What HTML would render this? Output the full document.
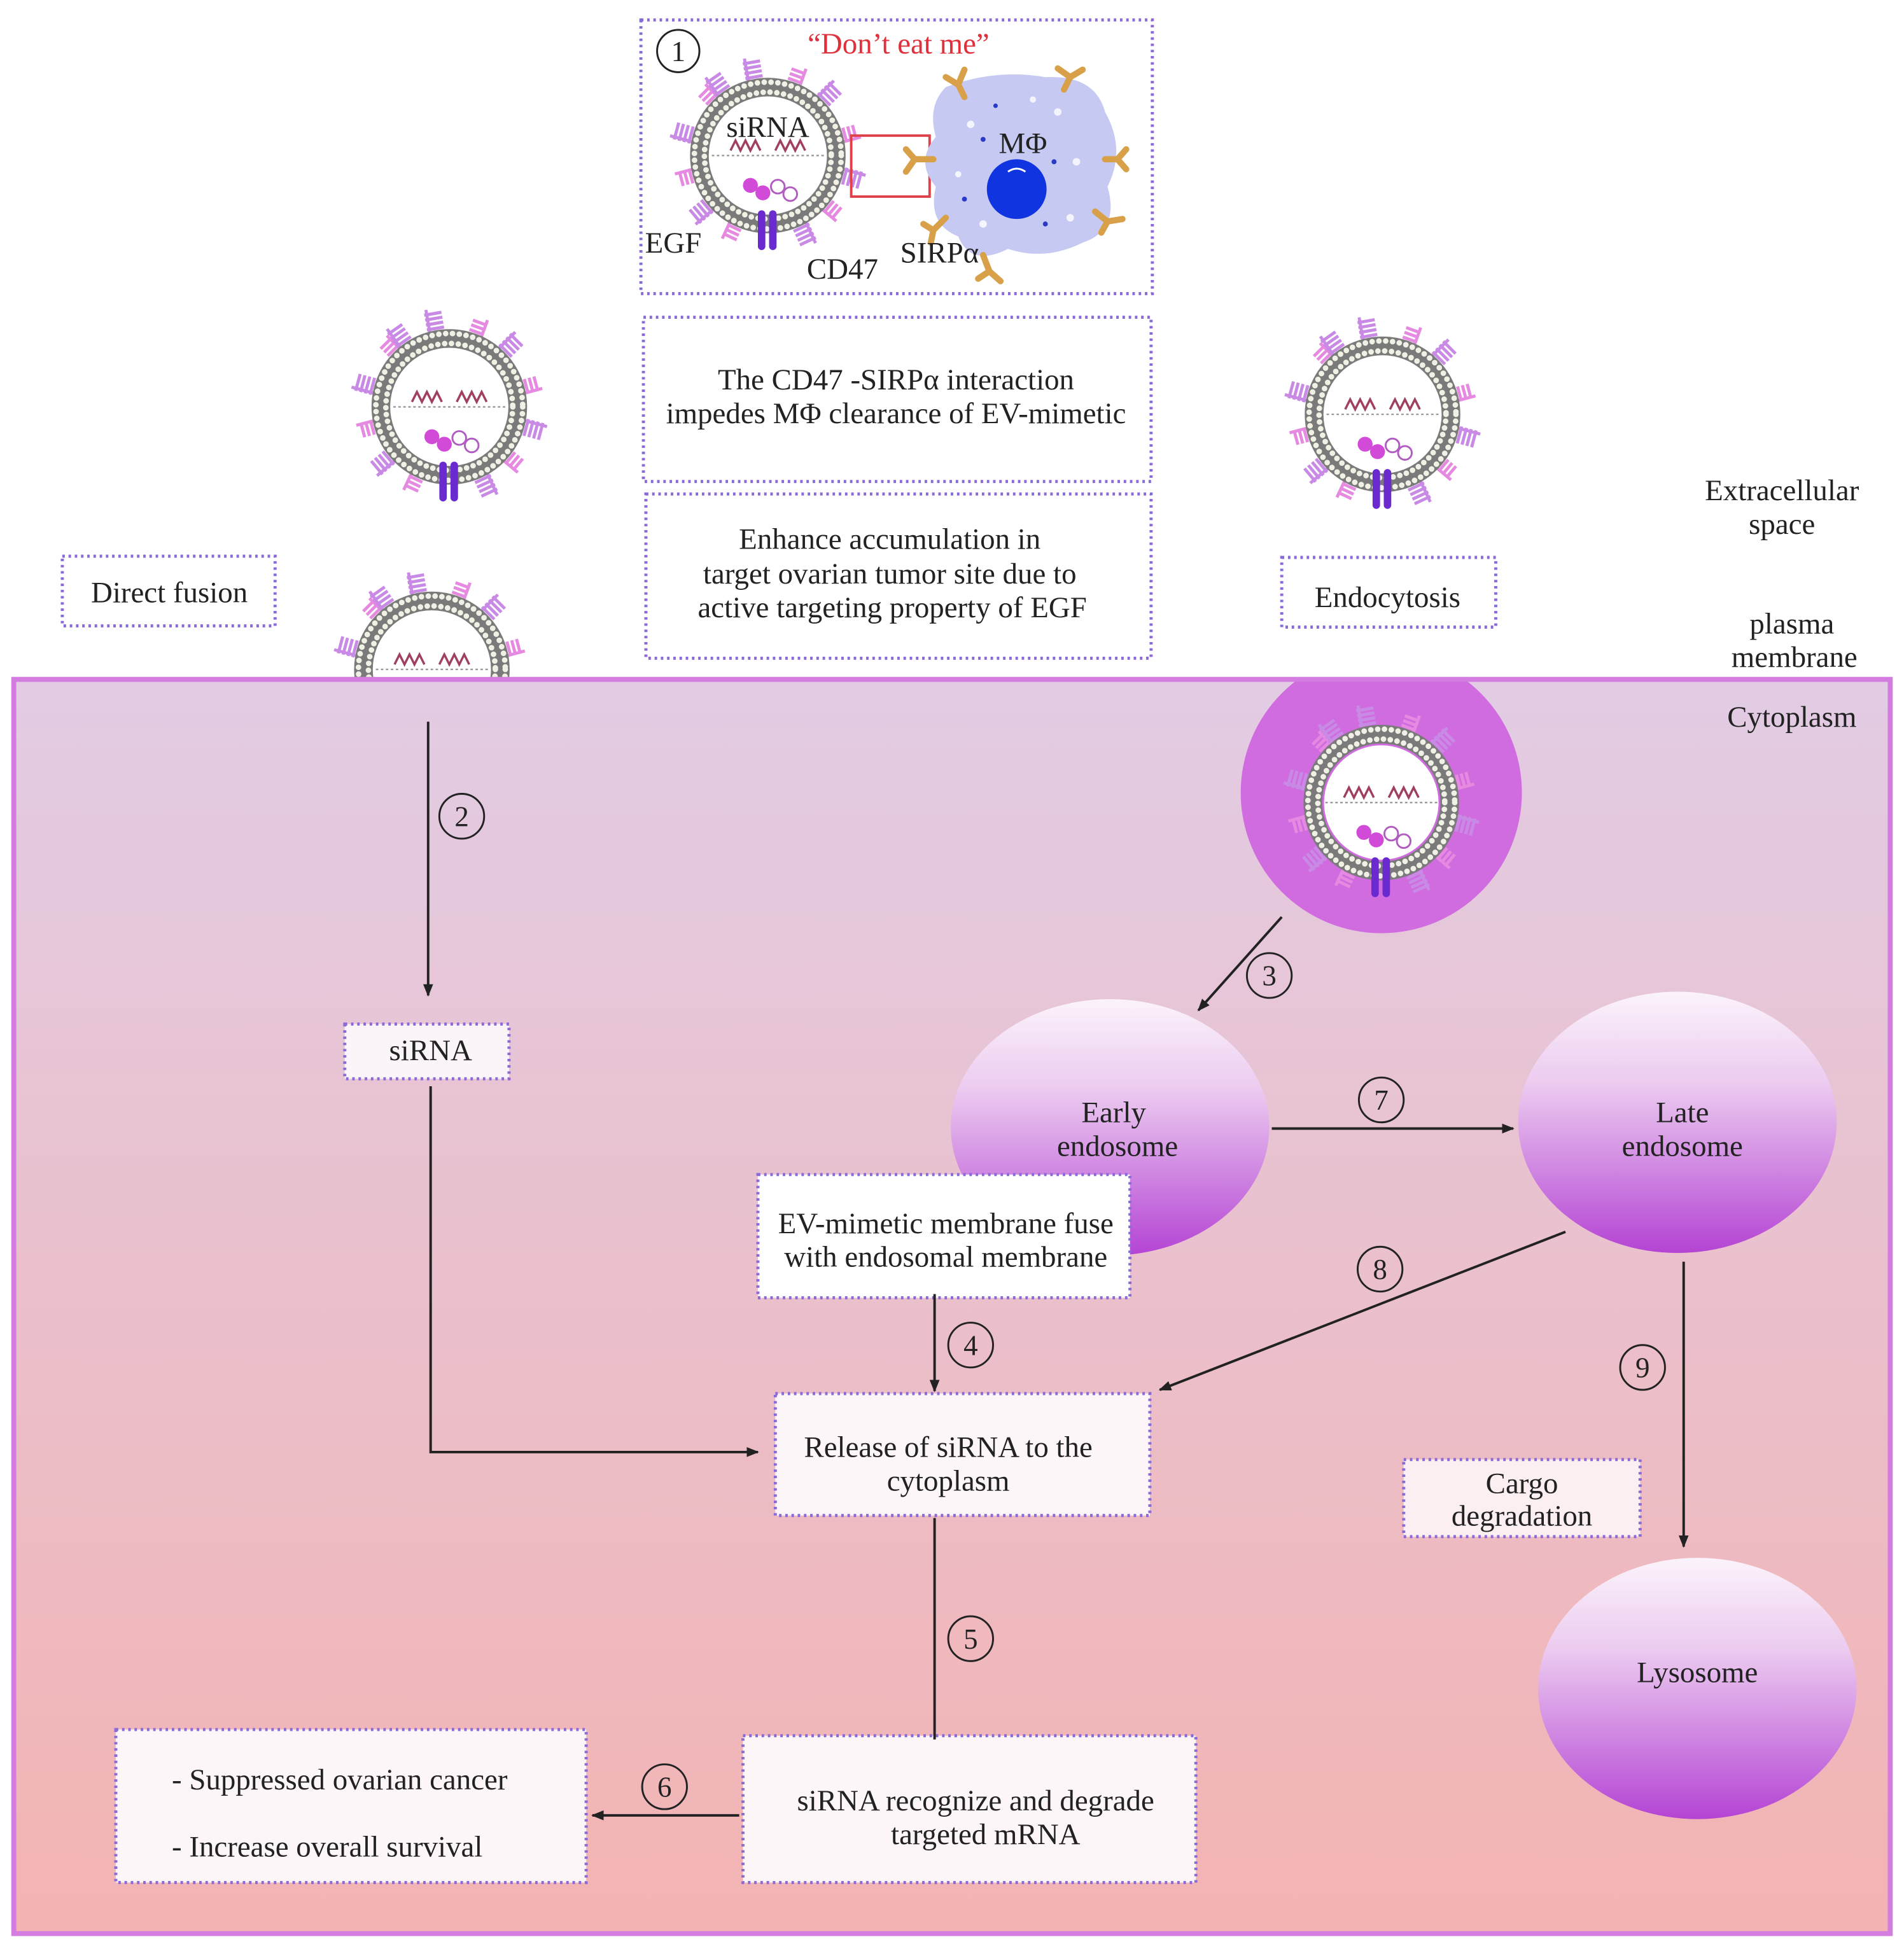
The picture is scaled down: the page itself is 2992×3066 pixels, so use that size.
<!DOCTYPE html>
<html><head><meta charset="utf-8"><style>
html,body{margin:0;padding:0;background:#fff}
svg{display:block}
text{font-family:"Liberation Serif",serif;fill:#222}
</style></head><body>
<svg width="2992" height="3066" viewBox="0 0 1530 1568" xmlns="http://www.w3.org/2000/svg">
<defs>
<linearGradient id="cyto" x1="0" y1="0" x2="0" y2="1">
<stop offset="0" stop-color="#e2cce4"/><stop offset="1" stop-color="#f3b3b2"/></linearGradient>
<linearGradient id="endo" x1="0" y1="0" x2="0" y2="1">
<stop offset="0" stop-color="#fbf3fb"/><stop offset="0.35" stop-color="#eccbf0"/><stop offset="1" stop-color="#b444d4"/></linearGradient>
<clipPath id="cc"><rect x="13" y="548" width="1504" height="1004"/></clipPath>
<marker id="ar" markerWidth="10" markerHeight="10" refX="9" refY="5" orient="auto" markerUnits="userSpaceOnUse">
<path d="M0,1 L10,5 L0,9 z" fill="#222"/></marker>
<g id="spk"><g stroke="#c98ae6" stroke-width="2.5">
<line x1="64" y1="-7" x2="64" y2="7"/><line x1="68" y1="-7" x2="68" y2="7"/><line x1="72" y1="-7" x2="72" y2="7"/><line x1="76" y1="-7" x2="76" y2="7"/><line x1="62" y1="-5" x2="80" y2="-5"/></g></g>
<g id="spk2"><g stroke="#e58ae0" stroke-width="2.5">
<line x1="64" y1="-6" x2="64" y2="6"/><line x1="68" y1="-6" x2="68" y2="6"/><line x1="72" y1="-6" x2="72" y2="6"/><line x1="62" y1="5" x2="76" y2="5"/></g></g>
<g id="ves">
<use href="#spk" transform="rotate(-100)"/><use href="#spk2" transform="rotate(-70)"/><use href="#spk" transform="rotate(-45)"/>
<use href="#spk2" transform="rotate(-15)"/><use href="#spk" transform="rotate(15)"/><use href="#spk2" transform="rotate(40)"/>
<use href="#spk" transform="rotate(65)"/><use href="#spk2" transform="rotate(115)"/><use href="#spk" transform="rotate(140)"/>
<use href="#spk2" transform="rotate(165)"/><use href="#spk" transform="rotate(195)"/><use href="#spk2" transform="rotate(225)"/>
<use href="#spk" transform="rotate(-125)"/>
<circle r="55" fill="none" stroke="#7a7a7a" stroke-width="15"/>
<circle r="59" fill="none" stroke="#f0f0e4" stroke-width="4.5" stroke-dasharray="0 5.5" stroke-linecap="round"/>
<circle r="51" fill="none" stroke="#f0f0e4" stroke-width="4.5" stroke-dasharray="0 5.5" stroke-linecap="round"/>
<circle r="46" fill="#fff"/>
<line x1="-45" y1="0" x2="45" y2="0" stroke="#999" stroke-width="1.2" stroke-dasharray="2 2"/>
<polyline points="-30,-4 -26,-12 -22,-4 -18,-12 -14,-4 -10,-12 -6,-4" fill="none" stroke="#a04060" stroke-width="1.8"/>
<polyline points="6,-4 10,-12 14,-4 18,-12 22,-4 26,-12 30,-4" fill="none" stroke="#a04060" stroke-width="1.8"/>
<circle cx="-14" cy="24" r="6" fill="#d24ad8"/><circle cx="-4" cy="30" r="6" fill="#d24ad8"/>
<circle cx="8" cy="25" r="5.5" fill="#fff" stroke="#b05cc0" stroke-width="1.5"/><circle cx="18" cy="31" r="5.5" fill="#fff" stroke="#b05cc0" stroke-width="1.5"/>
<rect x="-8" y="44" width="6" height="32" rx="3" fill="#6a2ad0"/><rect x="1" y="44" width="6" height="32" rx="3" fill="#6a2ad0"/>
</g>
</defs>

<rect width="1530" height="1568" fill="#fff"/>
<rect x="11" y="546" width="1508" height="1008" fill="url(#cyto)" stroke="#d47ce0" stroke-width="4"/>

<!-- Top panel 1 -->
<rect x="515" y="16" width="411" height="220" fill="#fff" stroke="#8a6ad8" stroke-width="2.5" stroke-dasharray="2 3"/>
<circle cx="545" cy="41" r="17" fill="none" stroke="#222" stroke-width="1.5"/>
<text x="545" y="49" font-size="23" text-anchor="middle">1</text>
<text x="722" y="43" font-size="24" text-anchor="middle" style="fill:#e0303c">“Don’t eat me”</text>
<use href="#ves" transform="translate(617,125)"/>
<text x="617" y="110" font-size="24" text-anchor="middle">siRNA</text>
<text x="541" y="203" font-size="24" text-anchor="middle">EGF</text>
<text x="677" y="224" font-size="24" text-anchor="middle">CD47</text>
<rect x="684" y="109" width="63" height="49" fill="none" stroke="#e0404a" stroke-width="2"/>
<path d="M760,70 Q800,55 840,62 Q880,60 888,90 Q905,120 890,150 Q900,185 870,195 Q840,210 810,200 Q780,215 770,190 Q745,180 752,150 Q735,130 752,110 Q745,85 760,70 z" fill="#c6caf2"/>
<g fill="#fff" opacity="0.8"><circle cx="780" cy="100" r="3"/><circle cx="850" cy="90" r="3"/><circle cx="865" cy="130" r="3"/><circle cx="790" cy="180" r="3"/><circle cx="860" cy="175" r="3"/><circle cx="770" cy="140" r="2.5"/><circle cx="830" cy="80" r="2.5"/></g>
<g fill="#2a3ac8"><circle cx="790" cy="112" r="2"/><circle cx="847" cy="130" r="2"/><circle cx="775" cy="160" r="2"/><circle cx="840" cy="180" r="2"/><circle cx="800" cy="85" r="1.8"/></g>
<circle cx="817" cy="152" r="24" fill="#1034e0"/>
<path d="M810,138 Q817,133 824,138" fill="none" stroke="#fff" stroke-width="1.5"/>
<text x="822" y="123" font-size="24" text-anchor="middle">MΦ</text>
<g stroke="#d8a048" stroke-width="5" fill="none" stroke-linecap="round">
<path d="M750,128 L735,128 M728,120 L735,128 L728,138"/>
<path d="M775,78 L770,68 M760,62 L770,68 L775,56"/>
<path d="M855,72 L860,62 M850,55 L860,62 L870,56"/>
<path d="M888,128 L898,128 M905,120 L898,128 L905,136"/>
<path d="M880,170 L890,178 M885,187 L890,178 L902,176"/>
<path d="M790,205 L795,218 M786,224 L795,218 L804,226"/>
<path d="M760,175 L750,185 M742,180 L750,185 L748,195"/>
</g>
<text x="755" y="211" font-size="24" text-anchor="middle">SIRPα</text>

<rect x="517" y="255" width="408" height="132" fill="#fff" stroke="#8a6ad8" stroke-width="2.5" stroke-dasharray="2 3"/>
<text x="720" y="313" font-size="24" text-anchor="middle">The CD47 -SIRPα interaction</text>
<text x="720" y="340" font-size="24" text-anchor="middle">impedes MΦ clearance of EV-mimetic</text>
<rect x="519" y="397" width="406" height="132" fill="#fff" stroke="#8a6ad8" stroke-width="2.5" stroke-dasharray="2 3"/>
<text x="715" y="441" font-size="24" text-anchor="middle">Enhance accumulation in</text>
<text x="715" y="469" font-size="24" text-anchor="middle">target ovarian tumor site due to</text>
<text x="717" y="496" font-size="24" text-anchor="middle">active targeting property of EGF</text>

<rect x="50" y="447" width="171" height="56" fill="#fff" stroke="#8a6ad8" stroke-width="2.5" stroke-dasharray="2 3"/>
<text x="136" y="484" font-size="24" text-anchor="middle">Direct fusion</text>
<rect x="1030" y="448" width="172" height="56" fill="#fff" stroke="#8a6ad8" stroke-width="2.5" stroke-dasharray="2 3"/>
<text x="1115" y="488" font-size="24" text-anchor="middle">Endocytosis</text>

<text x="1432" y="402" font-size="24" text-anchor="middle">Extracellular</text>
<text x="1432" y="429" font-size="24" text-anchor="middle">space</text>
<text x="1440" y="509" font-size="24" text-anchor="middle">plasma</text>
<text x="1442" y="536" font-size="24" text-anchor="middle">membrane</text>
<text x="1440" y="584" font-size="24" text-anchor="middle">Cytoplasm</text>

<use href="#ves" transform="translate(361,327)"/>
<use href="#ves" transform="translate(1111,333)"/>
<svg x="250" y="440" width="200" height="104" viewBox="250 440 200 104" overflow="hidden"><use href="#ves" transform="translate(347,538)"/></svg>

<g clip-path="url(#cc)"><circle cx="1110" cy="637" r="113" fill="#d06ce0"/></g>
<use href="#ves" transform="translate(1110,645)"/>

<ellipse cx="892" cy="906" rx="128" ry="103" fill="url(#endo)"/>
<text x="895" y="902" font-size="24" text-anchor="middle">Early</text>
<text x="898" y="929" font-size="24" text-anchor="middle">endosome</text>
<ellipse cx="1348" cy="902" rx="128" ry="105" fill="url(#endo)"/>
<text x="1352" y="902" font-size="24" text-anchor="middle">Late</text>
<text x="1352" y="929" font-size="24" text-anchor="middle">endosome</text>
<ellipse cx="1364" cy="1357" rx="128" ry="105" fill="url(#endo)"/>
<text x="1364" y="1352" font-size="24" text-anchor="middle">Lysosome</text>

<rect x="277" y="823" width="132" height="44" fill="#fbf4f8" stroke="#8a6ad8" stroke-width="2.5" stroke-dasharray="2 3"/>
<text x="346" y="852" font-size="24" text-anchor="middle">siRNA</text>
<rect x="609" y="944" width="299" height="99" fill="#fff" stroke="#8a6ad8" stroke-width="2.5" stroke-dasharray="2 3"/>
<text x="760" y="991" font-size="24" text-anchor="middle">EV-mimetic membrane fuse</text>
<text x="760" y="1018" font-size="24" text-anchor="middle">with endosomal membrane</text>
<rect x="623" y="1120" width="301" height="98" fill="#fdf6f8" stroke="#8a6ad8" stroke-width="2.5" stroke-dasharray="2 3"/>
<text x="762" y="1171" font-size="24" text-anchor="middle">Release of siRNA to the</text>
<text x="762" y="1198" font-size="24" text-anchor="middle">cytoplasm</text>
<rect x="597" y="1395" width="364" height="118" fill="#fdf6f8" stroke="#8a6ad8" stroke-width="2.5" stroke-dasharray="2 3"/>
<text x="784" y="1455" font-size="24" text-anchor="middle">siRNA recognize and degrade</text>
<text x="792" y="1482" font-size="24" text-anchor="middle">targeted mRNA</text>
<rect x="93" y="1390" width="378" height="123" fill="#fdf6f8" stroke="#8a6ad8" stroke-width="2.5" stroke-dasharray="2 3"/>
<text x="138" y="1438" font-size="24">- Suppressed ovarian cancer</text>
<text x="138" y="1492" font-size="24">- Increase overall survival</text>
<rect x="1128" y="1173" width="190" height="62" fill="#fbeff2" stroke="#8a6ad8" stroke-width="2.5" stroke-dasharray="2 3"/>
<text x="1223" y="1200" font-size="24" text-anchor="middle">Cargo</text>
<text x="1223" y="1226" font-size="24" text-anchor="middle">degradation</text>

<g stroke="#222" stroke-width="2" fill="none">
<line x1="344" y1="580" x2="344" y2="800" marker-end="url(#ar)"/>
<polyline points="346,873 346,1167 609,1167" marker-end="url(#ar)"/>
<line x1="1030" y1="737" x2="963" y2="812" marker-end="url(#ar)"/>
<line x1="1022" y1="907" x2="1216" y2="907" marker-end="url(#ar)"/>
<line x1="1258" y1="990" x2="932" y2="1117" marker-end="url(#ar)"/>
<line x1="1353" y1="1014" x2="1353" y2="1243" marker-end="url(#ar)"/>
<line x1="751" y1="1040" x2="751" y2="1118" marker-end="url(#ar)"/>
<line x1="751" y1="1220" x2="751" y2="1398"/>
<line x1="594" y1="1459" x2="476" y2="1459" marker-end="url(#ar)"/>
</g>
<g fill="none" stroke="#222" stroke-width="1.5">
<circle cx="371" cy="656" r="18"/><circle cx="1020" cy="784" r="18"/><circle cx="1110" cy="884" r="18"/>
<circle cx="1109" cy="1020" r="18"/><circle cx="1320" cy="1099" r="18"/><circle cx="780" cy="1081" r="18"/>
<circle cx="780" cy="1317" r="18"/><circle cx="534" cy="1436" r="18"/>
</g>
<g font-size="23" text-anchor="middle">
<text x="371" y="664">2</text><text x="1020" y="792">3</text><text x="1110" y="892">7</text>
<text x="1109" y="1028">8</text><text x="1320" y="1107">9</text><text x="780" y="1089">4</text>
<text x="780" y="1325">5</text><text x="534" y="1444">6</text>
</g>
</svg>
</body></html>
